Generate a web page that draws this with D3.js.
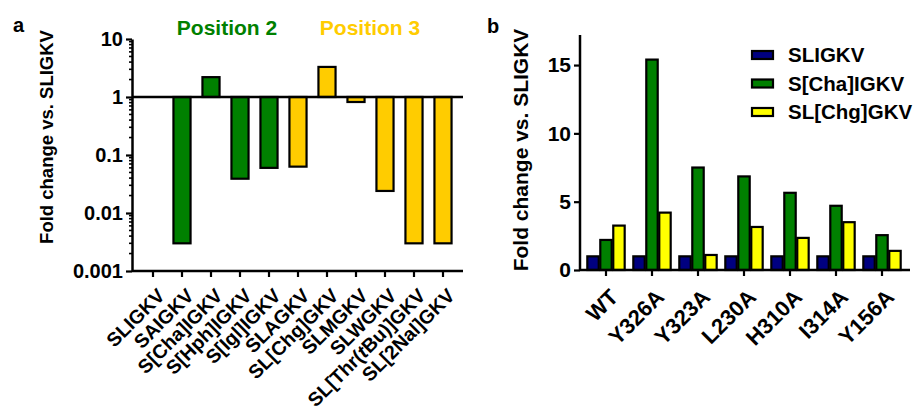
<!DOCTYPE html>
<html>
<head>
<meta charset="utf-8">
<script src="https://cdn.jsdelivr.net/npm/d3@7"></script>
<style>
  body { margin: 0; background: #fff; }
  svg { font-family: "Liberation Sans", Arial, sans-serif; font-weight: bold; }
</style>
</head>
<body>
<div id="chart"></div>
<script>
// panel a: fold change per peptide (log scale)
const peptides = ['SLIGKV', 'SAIGKV', 'S[Cha]IGKV', 'S[Hph]IGKV', 'S[Igl]IGKV', 'SLAGKV',
  'SL[Chg]GKV', 'SLMGKV', 'SLWGKV', 'SL[Thr(tBu)]GKV', 'SL[2Nal]GKV'];
const foldA = [1, 0.003, 2.2, 0.039, 0.06, 0.063, 3.3, 0.82, 0.024, 0.003, 0.003];
const positionA = [0, 2, 2, 2, 2, 3, 3, 3, 3, 3, 3];
const ticksA = [0.001, 0.01, 0.1, 1, 10];

// panel b: fold change per receptor mutant
const mutants = ['WT', 'Y326A', 'Y323A', 'L230A', 'H310A', 'I314A', 'Y156A'];
const seriesB = ['SLIGKV', 'S[Cha]IGKV', 'SL[Chg]GKV'];
const sligkvB = [1, 1, 1, 1, 1, 1, 1];
const chaB = [2.2, 15.4, 7.5, 6.85, 5.65, 4.7, 2.55];
const chgB = [3.25, 4.2, 1.1, 3.15, 2.35, 3.5, 1.4];
const ticksB = [0, 5, 10, 15];

const posColor = { 2: '#008000', 3: '#FFCC00' };
const seriesColor = ['#000080', '#008000', '#FFFF00'];

const svg = d3.select('#chart').append('svg')
  .attr('width', 915)
  .attr('height', 411);

// ---------- panel a ----------
const yA = d3.scaleLog().domain([0.001, 10]).range([271, 39]);
const xA = d3.scaleBand().domain(peptides).range([138.5, 457.5])
  .paddingInner(0.41).paddingOuter(0.205);

svg.append('text').attr('x', 13).attr('y', 32).attr('font-size', 20).text('a');

svg.append('text')
  .attr('transform', 'translate(53,137) rotate(-90)')
  .attr('text-anchor', 'middle')
  .attr('font-size', 18.5)
  .text('Fold change vs. SLIGKV');

svg.append('text').attr('x', 227).attr('y', 35).attr('text-anchor', 'middle')
  .attr('font-size', 21).attr('fill', posColor[2]).text('Position 2');
svg.append('text').attr('x', 370).attr('y', 35).attr('text-anchor', 'middle')
  .attr('font-size', 21).attr('fill', posColor[3]).text('Position 3');

svg.append('g').selectAll('rect')
  .data(foldA.map((v, i) => ({ v, p: peptides[i], pos: positionA[i] })).filter(d => d.pos > 0))
  .join('rect')
  .attr('x', d => xA(d.p))
  .attr('width', xA.bandwidth())
  .attr('y', d => Math.min(yA(d.v), yA(1)))
  .attr('height', d => Math.abs(yA(d.v) - yA(1)))
  .attr('fill', d => posColor[d.pos])
  .attr('stroke', '#000')
  .attr('stroke-width', 2.2);

// baseline at 1
svg.append('line')
  .attr('x1', 132).attr('x2', 463)
  .attr('y1', yA(1)).attr('y2', yA(1))
  .attr('stroke', '#000').attr('stroke-width', 2.5);

const axA = svg.append('g').attr('transform', 'translate(132,0)')
  .call(d3.axisLeft(yA).tickValues(ticksA).tickFormat(d => String(d)).tickSize(6).tickPadding(3).tickSizeOuter(0));
axA.select('.domain').attr('stroke-width', 2.5);
axA.selectAll('.tick line').attr('stroke-width', 2.2);
axA.selectAll('.tick text').attr('font-size', 20).attr('fill', '#000');

// minor log ticks
const minorA = [];
[0.001, 0.01, 0.1, 1].forEach(dec => { for (let k = 2; k <= 9; k++) minorA.push(dec * k); });
svg.append('g').selectAll('line').data(minorA).join('line')
  .attr('x1', 129).attr('x2', 132)
  .attr('y1', d => yA(d)).attr('y2', d => yA(d))
  .attr('stroke', '#000').attr('stroke-width', 1.6);

const axAx = svg.append('g').attr('transform', 'translate(0,271)')
  .call(d3.axisBottom(xA).tickSize(6).tickSizeOuter(0));
axAx.select('.domain').attr('d', 'M132,0H463').attr('stroke-width', 2.5);
axAx.selectAll('.tick line').attr('stroke-width', 2.2);
axAx.selectAll('.tick text')
  .attr('font-size', 19.5).attr('fill', '#000')
  .attr('text-anchor', 'end')
  .attr('x', 0).attr('y', 0).attr('dy', '0.35em')
  .attr('transform', 'translate(8,21) rotate(-45)')
  .each(function (d) {
    if (d.includes('(tBu)')) {
      const t = d3.select(this).text('');
      t.append('tspan').text('SL[Thr(');
      t.append('tspan').attr('font-style', 'italic').text('t');
      t.append('tspan').text('Bu)]GKV');
    }
  });

// ---------- panel b ----------
const yB = d3.scaleLinear().domain([0, 17.2]).range([270, 35]);
const x0 = d3.scaleBand().domain(mutants).range([583, 905]).paddingInner(0.12).paddingOuter(0.06);
const x1 = d3.scaleBand().domain(seriesB).range([0, x0.bandwidth()]).padding(0.12);
const valuesB = [sligkvB, chaB, chgB];

svg.append('text').attr('x', 487).attr('y', 33).attr('font-size', 20).text('b');

svg.append('text')
  .attr('transform', 'translate(528,150) rotate(-90)')
  .attr('text-anchor', 'middle')
  .attr('font-size', 21)
  .text('Fold change vs. SLIGKV');

const groups = svg.append('g').selectAll('g').data(mutants).join('g')
  .attr('transform', d => `translate(${x0(d)},0)`);
groups.selectAll('rect')
  .data((m, i) => seriesB.map((s, j) => ({ s, j, v: valuesB[j][i] })))
  .join('rect')
  .attr('x', d => x1(d.s))
  .attr('width', x1.bandwidth())
  .attr('y', d => yB(d.v))
  .attr('height', d => yB(0) - yB(d.v))
  .attr('fill', d => seriesColor[d.j])
  .attr('stroke', '#000')
  .attr('stroke-width', 2.2);

const axB = svg.append('g').attr('transform', 'translate(580,0)')
  .call(d3.axisLeft(yB).tickValues(ticksB).tickSize(6).tickPadding(3).tickSizeOuter(0));
axB.select('.domain').attr('d', `M0,${yB(17.2)}V${yB(0)}`).attr('stroke-width', 2.5);
axB.selectAll('.tick line').attr('stroke-width', 2.2);
axB.selectAll('.tick text').attr('font-size', 21).attr('fill', '#000');

const axBx = svg.append('g').attr('transform', `translate(0,${yB(0)})`)
  .call(d3.axisBottom(x0).tickSize(6).tickSizeOuter(0));
axBx.select('.domain').attr('d', 'M580,0H910').attr('stroke-width', 2.5);
axBx.selectAll('.tick line').attr('stroke-width', 2.2);
axBx.selectAll('.tick text')
  .attr('font-size', 22).attr('fill', '#000')
  .attr('text-anchor', 'end')
  .attr('x', 0).attr('y', 0).attr('dy', '0.35em')
  .attr('transform', 'translate(8,23) rotate(-45)');

// legend
const legend = svg.append('g').selectAll('g').data(seriesB).join('g')
  .attr('transform', (d, i) => `translate(752,${51 + i * 28.5})`);
legend.append('rect')
  .attr('width', 21).attr('height', 8)
  .attr('fill', (d, i) => seriesColor[i])
  .attr('stroke', '#000').attr('stroke-width', 2.2);
legend.append('text')
  .attr('x', 36).attr('y', 11)
  .attr('font-size', 20.5)
  .text(d => d);
</script>
</body>
</html>
